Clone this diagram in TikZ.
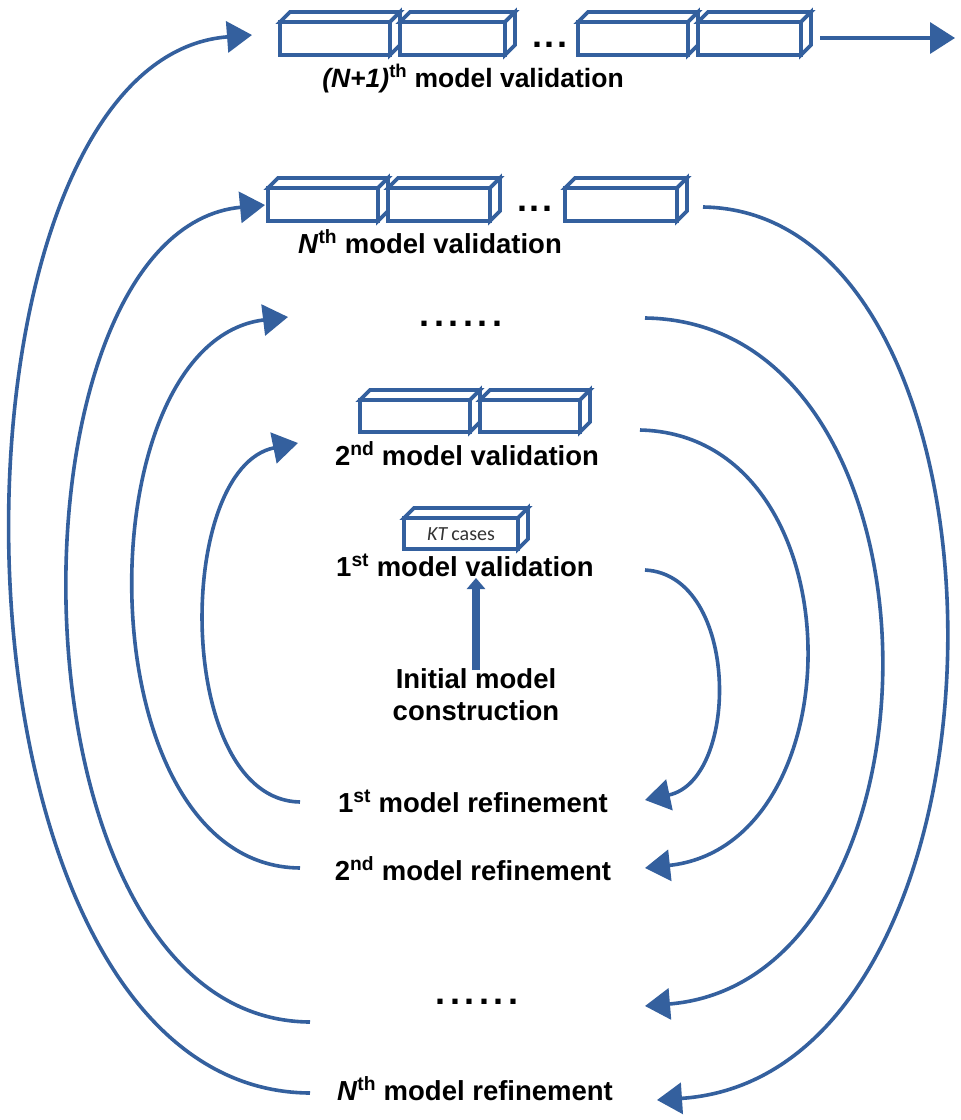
\documentclass[tikz,border=0pt]{standalone}
\usepackage{fontspec}
\setmainfont{Liberation Sans}
\newfontfamily\casefont{Carlito}
\usetikzlibrary{arrows.meta}
\definecolor{flowblue}{RGB}{52,96,158}
% a row of six spaced full stops
\newcommand\dotrow{.\hspace{4.6pt}.\hspace{4.6pt}.\hspace{4.6pt}.\hspace{4.6pt}.\hspace{4.6pt}.}
% three spaced full stops between boxes
\newcommand\gapdots{.\hspace{3pt}.\hspace{3pt}.}
\tikzset{
  pics/cuboid/.style 2 args={code={
    \path[boxline] (0,0) rectangle (#1,#2);
    \path[boxline] (0,0) -- (10,-10) -- (#1+10,-10) -- (#1,0) -- cycle;
    \path[boxline] (#1,0) -- (#1+10,-10) -- (#1+10,#2-10) -- (#1,#2) -- cycle;
  }}
}
\begin{document}
\begin{tikzpicture}[x=1pt,y=-1pt,
  boxline/.style={draw=flowblue,line width=3.8pt,fill=white,line join=miter},
  flow/.style={draw=flowblue,line width=3.6pt,-{Triangle[length=25pt,width=31pt]}},
  lbl/.style={font=\fontsize{27.5}{32}\selectfont\bfseries,inner sep=0pt,anchor=base},
  dots/.style={font=\fontsize{36}{40}\selectfont\bfseries,inner sep=0pt,anchor=base},
]
\useasboundingbox[fill=white] (0,0) rectangle (961,1120);

% (N+1)th validation row
\pic (t1) at (280,22) {cuboid={110}{33}};
\pic (t2) at (400,22) {cuboid={105}{33}};
\node[dots] (tdots) at (550,47) {\gapdots};
\pic (t3) at (578,22) {cuboid={110}{33}};
\pic (t4) at (698,22) {cuboid={103}{33}};
\coordinate (nextout) at (820,38);
\coordinate (nextin) at (955,38);
\draw[flow] (nextout) -- (nextin);
\node[lbl,font=\fontsize{26.5}{32}\selectfont\bfseries] (v0) at (473,87) {\textit{(N+1)}\textsuperscript{th} model validation};

% Nth validation row
\pic (n1) at (268,188) {cuboid={110}{33}};
\pic (n2) at (388,188) {cuboid={102}{33}};
\node[dots] (ndots) at (535,211) {\gapdots};
\pic (n3) at (565,188) {cuboid={112}{33}};
\node[lbl] (vN) at (430,253) {\textit{N}\textsuperscript{th} model validation};

\node[dots] (vdots) at (461,326) {\dotrow};

% 2nd validation row
\pic (s1) at (360,400) {cuboid={110}{32}};
\pic (s2) at (480,400) {cuboid={100}{32}};
\node[lbl] (v2) at (467,465) {2\textsuperscript{nd} model validation};

% 1st validation: a single box of KT cases
\pic (k1) at (404,518) {cuboid={114}{31}};
\node[inner sep=0pt,text=black!80,font=\casefont\fontsize{20}{22}\selectfont] (kt) at (461,534) {\textit{KT}\,cases};
\node[lbl] (v1) at (465,576) {1\textsuperscript{st} model validation};

% initial construction feeds the first validation
\node[lbl,align=center,anchor=north] (init) at (476,668) {Initial model\\construction};
\coordinate (initup) at (476,670);
\coordinate (v1in) at (476,578);
\draw[draw=flowblue,line width=8pt,-{Triangle[length=11pt,width=18pt]}] (initup) -- (v1in);

% refinement labels
\node[lbl] (r1) at (473,812) {1\textsuperscript{st} model refinement};
\node[lbl] (r2) at (473,880) {2\textsuperscript{nd} model refinement};
\node[dots] (rdots) at (477,1004) {\dotrow};
\node[lbl] (rN) at (475,1100) {\textit{N}\textsuperscript{th} model refinement};

% validation -> refinement (right side)
\coordinate (a1s) at (645,570);  \coordinate (a1e) at (645,800);
\coordinate (a2s) at (640,430);  \coordinate (a2e) at (645,868);
\coordinate (a3s) at (645,318);  \coordinate (a3e) at (645,1006);
\coordinate (a4s) at (703,207);  \coordinate (a4e) at (657,1100);
\draw[flow] (a1s) .. controls (740,575) and (740,780) .. (a1e);
\draw[flow] (a2s) .. controls (859,435) and (859,845) .. (a2e);
\draw[flow] (a3s) .. controls (958,322) and (958,980) .. (a3e);
\draw[flow] (a4s) .. controls (1033,212) and (1033,1075) .. (a4e);

% refinement -> next validation (left side)
\coordinate (b1s) at (300,802);  \coordinate (b1e) at (298,443);
\coordinate (b2s) at (300,868);  \coordinate (b2e) at (288,317);
\coordinate (b3s) at (310,1022); \coordinate (b3e) at (265,205);
\coordinate (b4s) at (310,1093); \coordinate (b4e) at (252,35);
\draw[flow] (b1s) .. controls (174,800) and (174,468) .. (b1e);
\draw[flow] (b2s) .. controls (82,866) and (82,342) .. (b2e);
\draw[flow] (b3s) .. controls (-3,1020) and (-3,230) .. (b3e);
\draw[flow] (b4s) .. controls (-77,1091) and (-77,60) .. (b4e);
\end{tikzpicture}
\end{document}
